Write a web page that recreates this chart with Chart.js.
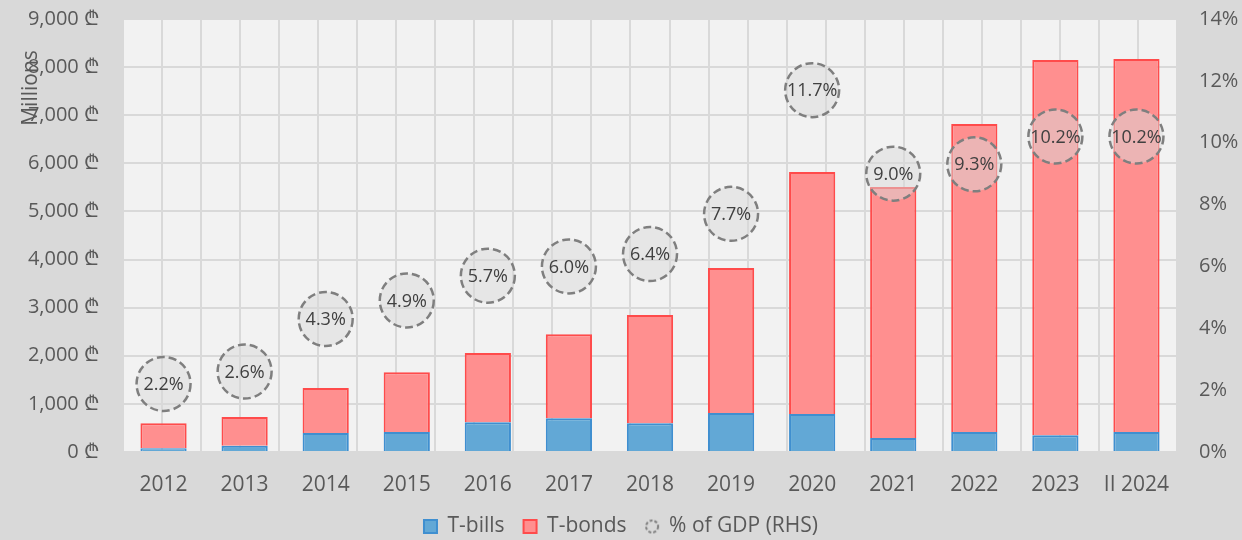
<!DOCTYPE html>
<html>
<head>
<meta charset="utf-8">
<script src="https://cdn.jsdelivr.net/npm/chart.js@4.4.1/dist/chart.umd.min.js"></script>
<style>
html, body { margin: 0; padding: 0; background: #d9d9d9; }
</style>
</head>
<body>
<canvas id="debtChart" width="1242" height="540"></canvas>
<script>
const years = ['2012', '2013', '2014', '2015', '2016', '2017', '2018', '2019', '2020', '2021', '2022', '2023', 'II 2024'];
const tBills = [80, 130, 395, 415, 620, 700, 600, 810, 790, 290, 415, 350, 415];
const tBonds = [520, 600, 935, 1245, 1440, 1750, 2250, 3015, 5030, 5220, 6405, 7800, 7755];
const gdpShare = [2.2, 2.6, 4.3, 4.9, 5.7, 6.0, 6.4, 7.7, 11.7, 9.0, 9.3, 10.2, 10.2];

const tickColor = '#595959';
const gridColor = '#d9d9d9';
const fontFamily = "'Open Sans', 'DejaVu Sans', sans-serif";

// small dashed circle used as the legend icon for the GDP series
const makeLegendCircle = function () {
    const c = document.createElement('canvas');
    c.width = 16;
    c.height = 16;
    const g = c.getContext('2d');
    g.strokeStyle = '#7f7f7f';
    g.lineWidth = 2;
    g.setLineDash([3, 2]);
    g.beginPath();
    g.arc(8, 8, 6, 0, Math.PI * 2);
    g.stroke();
    return c;
}
const legendCircle = makeLegendCircle();

// plugins

const plotBackground = {
    id: 'plotBackground',
    afterLayout(chart) {
        // x labels are clipped to the axis box, so give it room again
        chart.scales.x.bottom += 24;
        // nudge legend a little lower, like the original
        if (chart.legend) {
            chart.legend.top += 7;
            chart.legend.bottom += 7;
        }
    },
    beforeDraw(chart) {
        const {ctx, chartArea} = chart;
        ctx.save();
        ctx.fillStyle = '#f2f2f2';
        ctx.fillRect(chartArea.left, chartArea.top, chartArea.right - chartArea.left, chartArea.bottom - chartArea.top);
        ctx.restore();
    }
}

const dashedBubbles = {
    id: 'dashedBubbles',
    beforeDatasetDraw(chart, args) {
        if (args.meta.type === 'line') {
            chart.ctx.save();
            chart.ctx.setLineDash([8, 4]);
        }
    },
    afterDatasetDraw(chart, args) {
        if (args.meta.type === 'line') {
            chart.ctx.restore();
        }
    },
    afterDatasetsDraw(chart) {
        const ctx = chart.ctx;
        const meta = chart.getDatasetMeta(2);
        ctx.save();
        ctx.fillStyle = '#404040';
        ctx.font = '18px ' + fontFamily;
        ctx.textAlign = 'center';
        ctx.textBaseline = 'middle';
        meta.data.forEach((pt, i) => {
            ctx.fillText(gdpShare[i].toFixed(1) + '%', pt.x, pt.y + 1);
        });
        ctx.restore();
    }
}

const axisTitle = {
    id: 'axisTitle',
    afterDraw(chart) {
        const ctx = chart.ctx;
        ctx.save();
        ctx.translate(31, 88);
        ctx.rotate(-Math.PI / 2);
        ctx.fillStyle = tickColor;
        ctx.font = '21px ' + fontFamily;
        ctx.textAlign = 'center';
        ctx.textBaseline = 'middle';
        ctx.fillText('Millions', 0, 0);
        ctx.restore();
    }
}

new Chart('debtChart', {
    type: 'bar',
    data: {
        labels: years,
        datasets: [
            {
                label: 'T-bills',
                data: tBills,
                backgroundColor: '#62a8d6',
                borderColor: '#3f8fd0',
                borderWidth: 2,
                yAxisID: 'y',
                order: 1
            },
            {
                label: 'T-bonds',
                data: tBonds,
                backgroundColor: '#ff8f8f',
                borderColor: '#ff4b4b',
                borderWidth: 2,
                yAxisID: 'y',
                order: 1
            },
            {
                type: 'line',
                label: '% of GDP (RHS)',
                data: gdpShare,
                yAxisID: 'y2',
                showLine: false,
                pointRadius: 27,
                pointHoverRadius: 27,
                pointBorderWidth: 2.5,
                pointBorderColor: '#7f7f7f',
                pointBackgroundColor: 'rgba(217,217,217,0.5)',
                order: 0
            }
        ]
    },
    options: {
        responsive: false,
        animation: false,
        categoryPercentage: 0.57,
        barPercentage: 1,
        layout: { autoPadding: false, padding: { top: 19, left: 0, right: 0, bottom: 0 } },
        scales: {
            x: {
                stacked: true,
                grid: { display: false },
                border: { display: false },
                ticks: { color: tickColor, font: { family: fontFamily, size: 21 }, padding: 12 },
                afterFit(scale) { scale.height = 38; }
            },
            xg: {
                type: 'linear',
                position: 'bottom',
                min: -0.5,
                max: 12.5,
                ticks: { display: false, stepSize: 0.5 },
                grid: { color: gridColor, lineWidth: 2, drawTicks: false },
                border: { display: false },
                afterFit(scale) { scale.height = 0; }
            },
            y: {
                stacked: true,
                min: 0,
                max: 9000,
                ticks: {
                    stepSize: 1000,
                    color: tickColor,
                    font: { family: fontFamily, size: 20 },
                    padding: 0,
                    callback: (v) => v.toLocaleString('en-US') + ' \u20BE'
                },
                grid: { color: gridColor, lineWidth: 2, drawTicks: true, tickLength: 24, tickColor: 'transparent' },
                border: { display: false },
                afterFit(scale) { scale.width = 123; }
            },
            y2: {
                position: 'right',
                min: 0,
                max: 14,
                ticks: {
                    stepSize: 2,
                    color: tickColor,
                    font: { family: fontFamily, size: 20 },
                    padding: 0,
                    callback: (v) => v + '%'
                },
                grid: { color: 'transparent', drawOnChartArea: false, drawTicks: true, tickLength: 22, tickColor: 'transparent' },
                border: { display: false },
                afterFit(scale) { scale.width = 65; }
            }
        },
        plugins: {
            tooltip: { enabled: false },
            legend: {
                position: 'bottom',
                labels: {
                    color: tickColor,
                    font: { family: fontFamily, size: 21 },
                    usePointStyle: true,
                    boxHeight: 13,
                    boxWidth: 13,
                    padding: 19,
                    sort: (a, b) => a.datasetIndex - b.datasetIndex,
                    generateLabels(chart) {
                        const items = Chart.defaults.plugins.legend.labels.generateLabels(chart);
                        items.forEach((it) => {
                            if (it.datasetIndex === 2) {
                                it.pointStyle = legendCircle;
                            } else {
                                it.pointStyle = 'rect';
                                it.lineWidth = 2;
                            }
                        });
                        return items;
                    }
                }
            }
        }
    },
    plugins: [plotBackground, dashedBubbles, axisTitle]
});
</script>
</body>
</html>
